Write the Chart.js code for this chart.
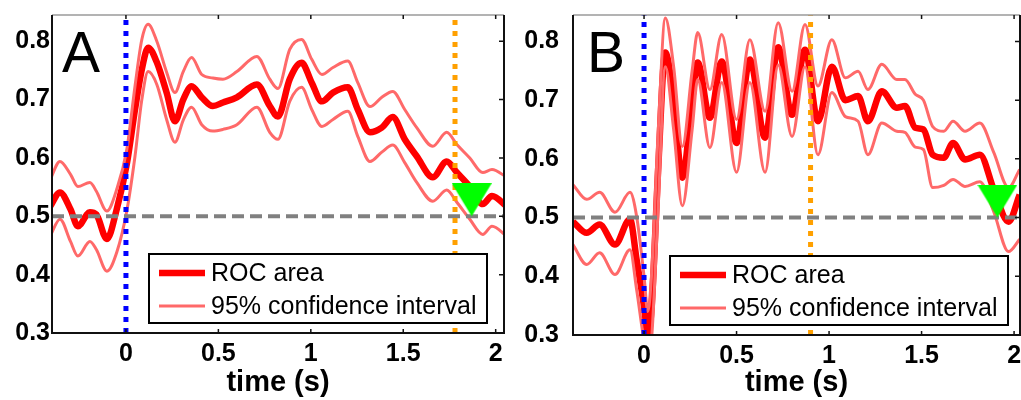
<!DOCTYPE html>
<html>
<head>
<meta charset="utf-8">
<script src="https://cdn.jsdelivr.net/npm/chart.js@4.4.1/dist/chart.umd.min.js"></script>
<style>
  html, body { margin: 0; padding: 0; background: #fff; }
  #wrap { position: relative; width: 1021px; height: 400px; overflow: hidden; }
  .panel { position: absolute; top: 0; }
  #panelA { left: 0; }
  #panelB { left: 510px; }
</style>
</head>
<body>
<div id="wrap">
  <div class="panel" id="panelA"><canvas id="chartA" width="510" height="400"></canvas></div>
  <div class="panel" id="panelB"><canvas id="chartB" width="530" height="400"></canvas></div>
</div>
<script>
// ---- data ----
const xTicks = [0, 0.5, 1, 1.5, 2];
const xTickLabels = ['0', '0.5', '1', '1.5', '2'];
const yTicks = [0.3, 0.4, 0.5, 0.6, 0.7, 0.8];
const yTickLabels = ['0.3', '0.4', '0.5', '0.6', '0.7', '0.8'];

const chance = 0.5;
const onsetTime = 0;

// panel A
const timeA = [-0.41, -0.357, -0.30, -0.26, -0.195, -0.16, -0.103, -0.05, 0.005, 0.049, 0.086, 0.12, 0.167, 0.22, 0.265, 0.31, 0.355, 0.41, 0.47, 0.525, 0.6, 0.708, 0.778, 0.822, 0.886, 0.95, 1.005, 1.06, 1.12, 1.2, 1.254, 1.32, 1.384, 1.443, 1.508, 1.573, 1.66, 1.735, 1.79, 1.86, 1.93, 1.98, 2.06];
const rocA = [0.517, 0.541, 0.512, 0.483, 0.507, 0.503, 0.461, 0.512, 0.59, 0.683, 0.752, 0.789, 0.764, 0.712, 0.663, 0.70, 0.723, 0.704, 0.689, 0.695, 0.704, 0.726, 0.689, 0.671, 0.735, 0.763, 0.729, 0.697, 0.712, 0.721, 0.683, 0.644, 0.652, 0.67, 0.632, 0.603, 0.567, 0.594, 0.575, 0.551, 0.521, 0.535, 0.517];
const upperA = [0.563, 0.594, 0.572, 0.551, 0.558, 0.543, 0.509, 0.546, 0.615, 0.723, 0.803, 0.829, 0.80, 0.747, 0.712, 0.748, 0.772, 0.743, 0.737, 0.735, 0.748, 0.774, 0.735, 0.719, 0.786, 0.803, 0.769, 0.743, 0.755, 0.766, 0.729, 0.688, 0.704, 0.714, 0.683, 0.652, 0.62, 0.644, 0.623, 0.60, 0.575, 0.58, 0.567];
const lowerA = [0.466, 0.495, 0.457, 0.432, 0.457, 0.443, 0.406, 0.438, 0.51, 0.603, 0.70, 0.748, 0.726, 0.666, 0.627, 0.665, 0.687, 0.657, 0.646, 0.649, 0.657, 0.687, 0.644, 0.632, 0.697, 0.721, 0.683, 0.654, 0.666, 0.68, 0.637, 0.594, 0.61, 0.622, 0.592, 0.558, 0.526, 0.545, 0.524, 0.495, 0.469, 0.483, 0.466];
const responseA = 1.78;
const crossA = 1.87;

// panel B
const timeB = [-0.384, -0.31, -0.24, -0.157, -0.076, -0.04, 0.0, 0.02, 0.04, 0.077, 0.115, 0.16, 0.207, 0.26, 0.29, 0.356, 0.42, 0.50, 0.572, 0.654, 0.725, 0.80, 0.87, 0.94, 1.015, 1.088, 1.157, 1.21, 1.285, 1.366, 1.41, 1.466, 1.51, 1.56, 1.62, 1.67, 1.735, 1.815, 1.89, 1.97, 2.03];
const rocB = [0.493, 0.474, 0.488, 0.454, 0.497, 0.428, 0.348, 0.30, 0.343, 0.587, 0.781, 0.70, 0.568, 0.70, 0.764, 0.67, 0.766, 0.627, 0.769, 0.636, 0.79, 0.675, 0.786, 0.664, 0.757, 0.70, 0.707, 0.664, 0.715, 0.687, 0.69, 0.653, 0.65, 0.607, 0.602, 0.627, 0.599, 0.607, 0.548, 0.493, 0.539];
const upperB = [0.556, 0.531, 0.543, 0.509, 0.543, 0.502, 0.40, 0.34, 0.40, 0.65, 0.84, 0.757, 0.621, 0.75, 0.815, 0.718, 0.812, 0.667, 0.803, 0.681, 0.832, 0.715, 0.829, 0.724, 0.803, 0.738, 0.749, 0.718, 0.761, 0.735, 0.735, 0.71, 0.70, 0.655, 0.647, 0.664, 0.647, 0.661, 0.611, 0.551, 0.582];
const lowerB = [0.454, 0.42, 0.44, 0.403, 0.445, 0.377, 0.29, 0.26, 0.29, 0.52, 0.757, 0.65, 0.52, 0.65, 0.735, 0.619, 0.73, 0.577, 0.73, 0.577, 0.76, 0.638, 0.757, 0.607, 0.713, 0.672, 0.664, 0.607, 0.661, 0.647, 0.645, 0.62, 0.616, 0.551, 0.555, 0.565, 0.553, 0.561, 0.51, 0.442, 0.463];
const responseB = 0.90;
const crossB = 1.91;

// ---- styling ----
const FONT = '"Liberation Sans", Arial, Helvetica, sans-serif';
Chart.defaults.font.family = FONT;
Chart.defaults.color = '#000';

const ROC_COLOR = '#ff0000';
const CI_COLOR = 'rgb(255,105,105)';

// green down-pointing triangle, tip at the centre of the image
function makeTriangle(w, h) {
  const c = document.createElement('canvas');
  c.width = w;
  c.height = h * 2;
  const g = c.getContext('2d');
  g.fillStyle = '#00ff00';
  g.beginPath();
  g.moveTo(0, 0);
  g.lineTo(w, 0);
  g.lineTo(w / 2, h);
  g.closePath();
  g.fill();
  return c;
}
const triangle = makeTriangle(40, 33);

const pts = (t, v) => t.map((x, i) => ({ x: x, y: v[i] }));

// frame, inner ticks, panel letter and legend box
const decorations = {
  id: 'decorations',
  afterDraw(chart, args, opts) {
    const { ctx, chartArea: a, scales } = chart;
    ctx.save();

    // frame
    ctx.lineWidth = 1.5;
    ctx.strokeStyle = '#9a9a9a';
    ctx.beginPath();
    ctx.moveTo(a.left, a.top);
    ctx.lineTo(a.right, a.top);
    ctx.stroke();

    ctx.lineWidth = 2;
    ctx.strokeStyle = '#111';
    ctx.beginPath();
    ctx.moveTo(a.left, a.top);
    ctx.lineTo(a.left, a.bottom);
    ctx.lineTo(a.right, a.bottom);
    ctx.lineTo(a.right, a.top);
    ctx.stroke();

    // inward tick marks on top and right
    ctx.lineWidth = 1.5;
    ctx.beginPath();
    xTicks.forEach(v => {
      const px = scales.x.getPixelForValue(v);
      ctx.moveTo(px, a.top);
      ctx.lineTo(px, a.top + 4);
      ctx.moveTo(px, a.bottom);
      ctx.lineTo(px, a.bottom - 4);
    });
    yTicks.forEach(v => {
      const py = scales.y.getPixelForValue(v);
      ctx.moveTo(a.right, py);
      ctx.lineTo(a.right - 5, py);
    });
    ctx.stroke();

    // panel letter
    ctx.fillStyle = '#000';
    ctx.font = '57px ' + FONT;
    ctx.textBaseline = 'alphabetic';
    ctx.textAlign = 'left';
    ctx.fillText(opts.letter, a.left + opts.letterDx, a.top + 57);

    // legend
    const bx = a.left + 97, bw = 338, bh = 69;
    const by = a.bottom - 10 - bh;
    ctx.fillStyle = '#fff';
    ctx.fillRect(bx, by, bw, bh);
    ctx.lineWidth = 2;
    ctx.strokeStyle = '#000';
    ctx.strokeRect(bx, by, bw, bh);

    const rows = [
      { ds: chart.data.datasets.find(d => d.label === 'ROC area'), y: by + 19 },
      { ds: chart.data.datasets.find(d => d.label === '95% confidence interval'), y: by + 52 }
    ];
    ctx.font = '25px ' + FONT;
    ctx.textBaseline = 'middle';
    rows.forEach(r => {
      ctx.strokeStyle = r.ds.borderColor;
      ctx.lineWidth = r.ds.borderWidth;
      ctx.beginPath();
      ctx.moveTo(bx + 10, r.y);
      ctx.lineTo(bx + 56, r.y);
      ctx.stroke();
      ctx.fillStyle = '#000';
      ctx.fillText(r.ds.label, bx + 62, r.y + 1);
    });
    ctx.restore();
  }
};

function buildPanel(canvasId, p) {
  return new Chart(document.getElementById(canvasId), {
    type: 'line',
    data: {
      datasets: [
        {
          label: 'crossing', data: [{ x: p.cross, y: chance }],
          showLine: false, pointStyle: triangle, pointRadius: 5, order: 0, clip: 0
        },
        {
          label: 'onset', data: [{ x: onsetTime, y: p.yMin }, { x: onsetTime, y: p.yMax }],
          borderColor: '#0000ff', borderWidth: 5, borderDash: [5, 6], pointRadius: 0, order: 1, clip: 0
        },
        {
          label: 'response', data: [{ x: p.response, y: p.yMin }, { x: p.response, y: p.yMax }],
          borderColor: 'rgb(255,160,0)', borderWidth: 5, borderDash: [5, 6], pointRadius: 0, order: 2, clip: 0
        },
        {
          label: 'chance', data: [{ x: p.xMin, y: chance }, { x: p.xMax, y: chance }],
          borderColor: '#808080', borderWidth: 4, borderDash: [12, 6], pointRadius: 0, order: 3, clip: 0
        },
        {
          label: '95% confidence interval', data: pts(p.time, p.upper),
          borderColor: CI_COLOR, borderWidth: 3, pointRadius: 0,
          cubicInterpolationMode: 'monotone', order: 4, clip: 0
        },
        {
          label: 'lower', data: pts(p.time, p.lower),
          borderColor: CI_COLOR, borderWidth: 3, pointRadius: 0,
          cubicInterpolationMode: 'monotone', order: 4, clip: 0
        },
        {
          label: 'ROC area', data: pts(p.time, p.roc),
          borderColor: ROC_COLOR, borderWidth: 6.5, pointRadius: 0,
          cubicInterpolationMode: 'monotone', order: 5, clip: 0
        }
      ]
    },
    options: {
      responsive: false,
      animation: false,
      events: [],
      layout: { padding: { top: 15, right: p.padRight, left: 0, bottom: 0 } },
      plugins: {
        legend: { display: false },
        tooltip: { enabled: false },
        decorations: { letter: p.letter, letterDx: p.letterDx }
      },
      scales: {
        x: {
          type: 'linear', min: p.xMin, max: p.xMax,
          afterBuildTicks: s => { s.ticks = xTicks.map(v => ({ value: v })); },
          afterFit: s => { s.height = p.xAxisH; },
          ticks: {
            callback: v => xTickLabels[xTicks.indexOf(v)],
            font: { size: 25, weight: 'bold' }, color: '#000',
            padding: 6, maxRotation: 0, autoSkip: false
          },
          grid: { display: false, drawTicks: false },
          border: { display: false },
          title: {
            display: true, text: 'time (s)', color: '#000',
            font: { size: 29, weight: 'bold' }, padding: { top: 0, bottom: 0 }
          }
        },
        y: {
          type: 'linear', min: p.yMin, max: p.yMax,
          afterBuildTicks: s => { s.ticks = yTicks.map(v => ({ value: v })); },
          afterFit: s => {
            s.width = p.yAxisW;
            // keep the plot box where the figure has it
            s.paddingTop = 0;
            s.paddingBottom = 0;
          },
          ticks: {
            callback: v => yTickLabels[yTicks.indexOf(v)],
            font: { size: 25, weight: 'bold' }, color: '#000', padding: p.yPad
          },
          grid: { display: false, drawTicks: false },
          border: { display: false }
        }
      }
    },
    plugins: [decorations]
  });
}

buildPanel('chartA', {
  letter: 'A', letterDx: 10,
  time: timeA, roc: rocA, upper: upperA, lower: lowerA,
  response: responseA, cross: crossA,
  xMin: -0.4, xMax: 2.045, yMin: 0.3, yMax: 0.845,
  yAxisW: 52, yPad: 2, xAxisH: 67, padRight: 5
});

buildPanel('chartB', {
  letter: 'B', letterDx: 14,
  time: timeB, roc: rocB, upper: upperB, lower: lowerB,
  response: responseB, cross: crossB,
  xMin: -0.384, xMax: 2.032, yMin: 0.3, yMax: 0.845,
  yAxisW: 63, yPad: 14, xAxisH: 65, padRight: 20
});
</script>
</body>
</html>
